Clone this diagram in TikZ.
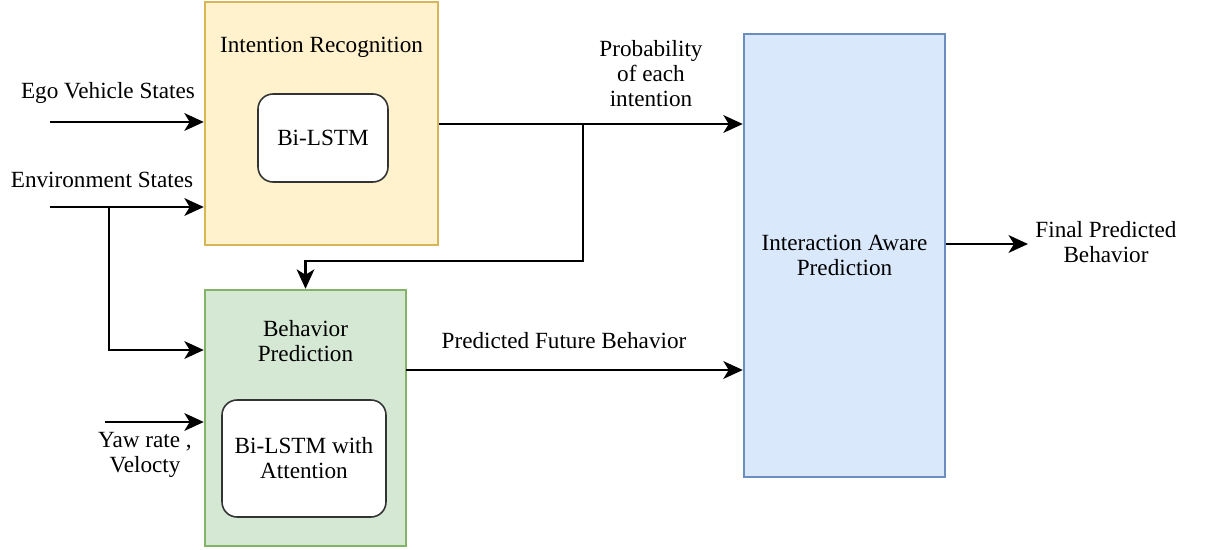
\documentclass[tikz,border=0pt]{standalone}
\usepackage{fontspec}
\setmainfont{Liberation Serif}
\usetikzlibrary{arrows.meta}

\definecolor{irfill}{HTML}{FFF2CC}
\definecolor{irline}{HTML}{D6B656}
\definecolor{bpfill}{HTML}{D5E8D4}
\definecolor{bpline}{HTML}{82B366}
\definecolor{iapfill}{HTML}{DAE8FC}
\definecolor{iapline}{HTML}{6C8EBF}

\begin{document}
\begin{tikzpicture}[x=0.02cm,y=-0.02cm,font=\fontsize{13.2}{14.2}\selectfont]
    \tikzset{
        block/.style={draw,line width=1.4pt,align=center},
        inner/.style={draw=black!80,line width=0.9pt,fill=white,rounded corners=0.3cm,align=center},
        flow/.style={line width=1.6pt,-{Stealth[length=11pt,width=10pt,inset=3pt]}},
        wire/.style={line width=1.6pt}
    }
    \useasboundingbox (0,0) rectangle (1222,550);

    % blocks
    \node[block,fill=irfill,draw=irline,minimum width=4.66cm,minimum height=4.86cm] (ir) at (321.5,123.5) {};
    \node (irt) at (321.5,47) {Intention Recognition};
    \node[inner,minimum width=2.6cm,minimum height=1.76cm] (irlstm) at (323,138) {Bi-LSTM};
    \node[block,fill=bpfill,draw=bpline,minimum width=4.02cm,minimum height=5.12cm] (bp) at (305.5,418) {};
    \node[align=center] (bpt) at (305.5,341) {Behavior\\Prediction};
    \node[inner,minimum width=3.28cm,minimum height=2.34cm] (bplstm) at (304,458.5) {Bi-LSTM with\\Attention};
    \node[block,fill=iapfill,draw=iapline,minimum width=4.02cm,minimum height=8.86cm] (iap) at (844.5,255.5) {Interaction Aware\\Prediction};

    % labels
    \node (ego) at (108,93) {Ego Vehicle States};
    \node (env) at (102,180) {Environment States};
    \node[align=center] (yaw) at (145,455) {Yaw rate ,\\Velocty};
    \node[align=center] (prob) at (651,74) {Probability\\of each\\intention};
    \node (pfb) at (564,341) {Predicted Future Behavior};
    \node[align=center] (fpb) at (1106,242) {Final Predicted\\Behavior};

    \coordinate (egoin) at (50,122);
    \coordinate (envin) at (50,207);
    \coordinate (envbr) at (109,207);
    \coordinate (yawin) at (105,422);
    \coordinate (probbr) at (583,124);
    \coordinate (pfbout) at (406,370);
    \coordinate (fpbout) at (1028,244);

    % connectors
    \draw[flow] (egoin) -- (egoin -| ir.west);
    \draw[flow] (envin) -- (envin -| ir.west);
    \draw[flow] (envbr) -- (109,350) -- (bp.west |- 0,350);
    \draw[flow] (yawin) -- (yawin -| bp.west);
    \draw[flow] (ir.east |- probbr) -- (probbr -| iap.west);
    \draw[flow] (probbr) -- (583,261) -| (bp.north);
    \draw[flow] (pfbout) -- (pfbout -| iap.west);
    \draw[flow] (iap.east |- fpbout) -- (fpbout);
\end{tikzpicture}
\end{document}
